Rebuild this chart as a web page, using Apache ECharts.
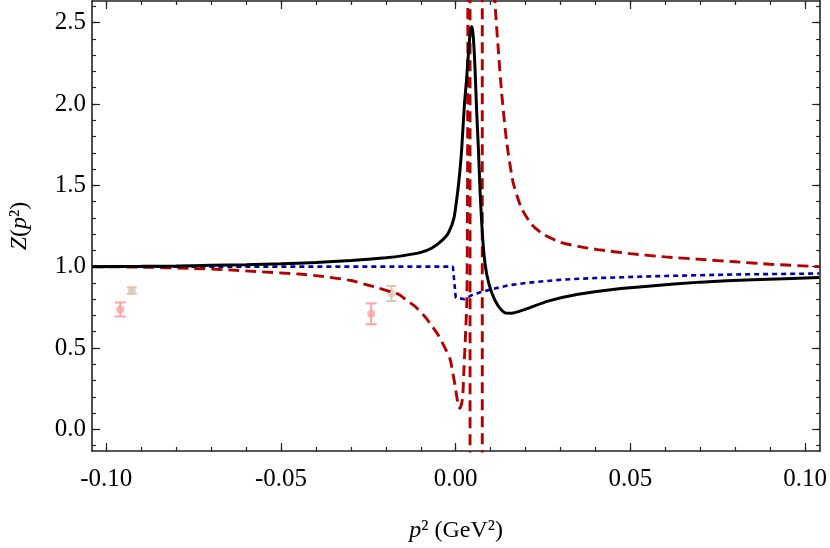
<!DOCTYPE html>
<html><head><meta charset="utf-8">
<script src="https://cdn.jsdelivr.net/npm/echarts@6/dist/echarts.min.js"></script>
<style>html,body{margin:0;padding:0;background:#fff}#c{width:830px;height:548px}</style>
</head><body><div id="c"></div>
<script>
// ---- axis extents / ticks ----
const xRange = [-0.1041, 0.1043];
const yRange = [-0.133, 2.633];
const xMajorTicks = [-0.10, -0.05, 0.00, 0.05, 0.10];
const xMinorTicks = [-0.10,-0.09,-0.08,-0.07,-0.06,-0.05,-0.04,-0.03,-0.02,-0.01,0.00,0.01,0.02,0.03,0.04,0.05,0.06,0.07,0.08,0.09,0.10];
const yMajorTicks = [0.0, 0.5, 1.0, 1.5, 2.0, 2.5];
const yMinorTicks = [-0.1,0.0,0.1,0.2,0.3,0.4,0.5,0.6,0.7,0.8,0.9,1.0,1.1,1.2,1.3,1.4,1.5,1.6,1.7,1.8,1.9,2.0,2.1,2.2,2.3,2.4,2.5,2.6];

// ---- black solid curve ----
const blackCurve = [
  [-0.104,1.000],[-0.09,1.002],[-0.08,1.004],[-0.07,1.008],[-0.06,1.012],[-0.05,1.018],
  [-0.04,1.026],[-0.03,1.038],[-0.02,1.055],[-0.015,1.068],[-0.01,1.088],[-0.0068,1.115],
  [-0.004,1.16],[-0.0021,1.207],[-0.0005,1.30],[0.0005,1.45],[0.00125,1.60],[0.0017,1.72],
  [0.0025,2.00],[0.0031,2.15],[0.0036,2.30],[0.0041,2.43],[0.0046,2.476],[0.0050,2.42],
  [0.0055,2.23],[0.0060,1.95],[0.0065,1.72],[0.0070,1.45],[0.0079,1.12],[0.0089,0.95],
  [0.0103,0.84],[0.0122,0.757],[0.0141,0.716],[0.016,0.714],[0.0198,0.737],[0.0264,0.788],
  [0.035,0.83],[0.045,0.86],[0.055,0.88],[0.07,0.905],[0.085,0.92],[0.104,0.933]
];

// ---- red dashed curve (branches) ----
const redLeft = [
  [-0.104,1.0],[-0.09,0.997],[-0.0762,0.99],[-0.065,0.98],[-0.0572,0.97],[-0.045,0.955],
  [-0.0382,0.94],[-0.03,0.915],[-0.024,0.88],[-0.0163,0.83],[-0.0144,0.80],[-0.0116,0.755],
  [-0.0087,0.69],[-0.0068,0.635],[-0.005,0.58],[-0.0033,0.51],[-0.0016,0.43],[-0.0002,0.27],
  [0.0008,0.14],[0.0012,0.13],[0.0018,0.17],[0.0021,0.24],[0.0024,0.39],[0.0028,0.58],
  [0.0032,0.80],[0.0034,1.6],[0.0035,3.0]
];
const redMidA = [[0.0041,3.0],[0.0041,-0.3]];
const redMidB = [[0.0076,-0.3],[0.0076,3.0]];
const redRight = [
  [0.0108,3.0],[0.0112,2.64],[0.0122,2.33],[0.0131,2.08],[0.0145,1.78],[0.0164,1.52],
  [0.0188,1.36],[0.0217,1.26],[0.025,1.20],[0.03,1.15],[0.035,1.125],[0.0407,1.105],
  [0.05,1.08],[0.06,1.06],[0.07,1.045],[0.08,1.03],[0.09,1.015],[0.104,1.0]
];

// ---- blue dotted curve ----
const blueCurve = [
  [-0.104,1.0],[-0.0008,1.0],[0.0,0.81],[0.0025,0.80],[0.005,0.83],[0.01,0.86],
  [0.015,0.885],[0.02,0.90],[0.03,0.92],[0.04,0.93],[0.06,0.943],[0.08,0.952],[0.104,0.958]
];

// ---- data points with error bars [x, y, err] ----
const pinkPoints = [[-0.0960,0.737,0.043],[-0.0242,0.710,0.064]];
const tanPoints  = [[-0.0927,0.853,0.020],[-0.0184,0.835,0.046]];

const FONT = 'Liberation Serif';
const AX = '#222';
const RED = '#b30000', BLUE = '#0000b0', PINK = '#ffa3a3', TAN = '#dcc9b5';

function errBar(color, hw) {
  return function (params, api) {
    const x = api.value(0);
    const lo = api.coord([x, api.value(1)]);
    const hi = api.coord([x, api.value(2)]);
    const st = {stroke: color, lineWidth: 2};
    return {type: 'group', children: [
      {type:'line', shape:{x1:lo[0],y1:lo[1],x2:hi[0],y2:hi[1]}, style: st},
      {type:'line', shape:{x1:lo[0]-hw,y1:lo[1],x2:lo[0]+hw,y2:lo[1]}, style: st},
      {type:'line', shape:{x1:hi[0]-hw,y1:hi[1],x2:hi[0]+hw,y2:hi[1]}, style: st}
    ]};
  };
}

function xAxisDef(pos, ticks, len, showLine, showLabel) {
  return {
    type: 'value', position: pos, min: xRange[0], max: xRange[1],
    axisLine: {show: showLine, onZero: false, lineStyle: {color: AX, width: 1.6}},
    axisTick: {show: true, inside: true, length: len, customValues: ticks, lineStyle: {color: AX, width: 1.2}},
    axisLabel: showLabel ? {show: true, customValues: ticks, margin: 16, fontFamily: FONT, fontSize: 25, color: '#000',
      formatter: v => v.toFixed(2)} : {show: false},
    splitLine: {show: false}
  };
}
function yAxisDef(pos, ticks, len, showLine, showLabel) {
  return {
    type: 'value', position: pos, min: yRange[0], max: yRange[1],
    axisLine: {show: showLine, onZero: false, lineStyle: {color: AX, width: 1.6}},
    axisTick: {show: true, inside: true, length: len, customValues: ticks, lineStyle: {color: AX, width: 1.2}},
    axisLabel: showLabel ? {show: true, customValues: ticks, margin: 6, fontFamily: FONT, fontSize: 25, color: '#000',
      formatter: v => v.toFixed(1)} : {show: false},
    splitLine: {show: false}
  };
}

const xa0 = xAxisDef('bottom', xMajorTicks, 8, true, true);
xa0.name = '{i|p}² (GeV²)';
xa0.nameLocation = 'middle';
xa0.nameGap = 68;
xa0.nameTextStyle = {fontFamily: FONT, fontSize: 24, color: '#000', rich: {i: {fontFamily: FONT, fontStyle: 'italic', fontSize: 24, color:'#000'}}};
const ya0 = yAxisDef('left', yMajorTicks, 8, true, true);
ya0.name = '{i|Z}({i|p}²)';
ya0.nameLocation = 'middle';
ya0.nameGap = 60;
ya0.nameTextStyle = {fontFamily: FONT, fontSize: 24, color: '#000', rich: {i: {fontFamily: FONT, fontStyle: 'italic', fontSize: 24, color:'#000'}}};

const option = {
  animation: false,
  backgroundColor: '#fff',
  grid: {left: 92, right: 7, top: 1, bottom: 96, containLabel: false},
  xAxis: [
    xa0,
    xAxisDef('bottom', xMinorTicks, 4, false, false),
    xAxisDef('top', xMajorTicks, 8, true, false),
    xAxisDef('top', xMinorTicks, 4, false, false)
  ],
  yAxis: [
    ya0,
    yAxisDef('left', yMinorTicks, 4, false, false),
    yAxisDef('right', yMajorTicks, 8, true, false),
    yAxisDef('right', yMinorTicks, 4, false, false)
  ],
  series: [
    {type:'custom', renderItem: errBar(PINK, 5.5), data: pinkPoints.map(p => [p[0], p[1]-p[2], p[1]+p[2]]), z: 1},
    {type:'custom', renderItem: errBar(TAN, 5), data: tanPoints.map(p => [p[0], p[1]-p[2], p[1]+p[2]]), z: 1},
    {type:'scatter', data: pinkPoints.map(p => [p[0], p[1]]), symbolSize: 8, itemStyle: {color: PINK}, z: 1},
    {type:'scatter', data: tanPoints.map(p => [p[0], p[1]]), symbolSize: 8, itemStyle: {color: TAN}, z: 1},
    {type:'line', data: blueCurve, showSymbol: false, symbol: 'none', clip: true,
      lineStyle: {color: BLUE, width: 2.6, type: [5, 4]}, z: 2},
    {type:'line', data: redLeft, showSymbol: false, symbol: 'none', clip: true, smooth: 0.2,
      lineStyle: {color: RED, width: 2.9, type: [11, 6]}, z: 3},
    {type:'line', data: redMidA, showSymbol: false, symbol: 'none', clip: true,
      lineStyle: {color: RED, width: 2.9, type: [11, 6]}, z: 3},
    {type:'line', data: redMidB, showSymbol: false, symbol: 'none', clip: true,
      lineStyle: {color: RED, width: 2.9, type: [11, 6]}, z: 3},
    {type:'line', data: redRight, showSymbol: false, symbol: 'none', clip: true, smooth: 0.2,
      lineStyle: {color: RED, width: 2.9, type: [11, 6]}, z: 3},
    {type:'line', data: blackCurve, showSymbol: false, symbol: 'none', clip: true, smooth: 0.2,
      lineStyle: {color: '#000', width: 3}, z: 4}
  ]
};
const chart = echarts.init(document.getElementById('c'), null, {renderer: 'canvas'});
chart.setOption(option);
</script>
</body></html>
